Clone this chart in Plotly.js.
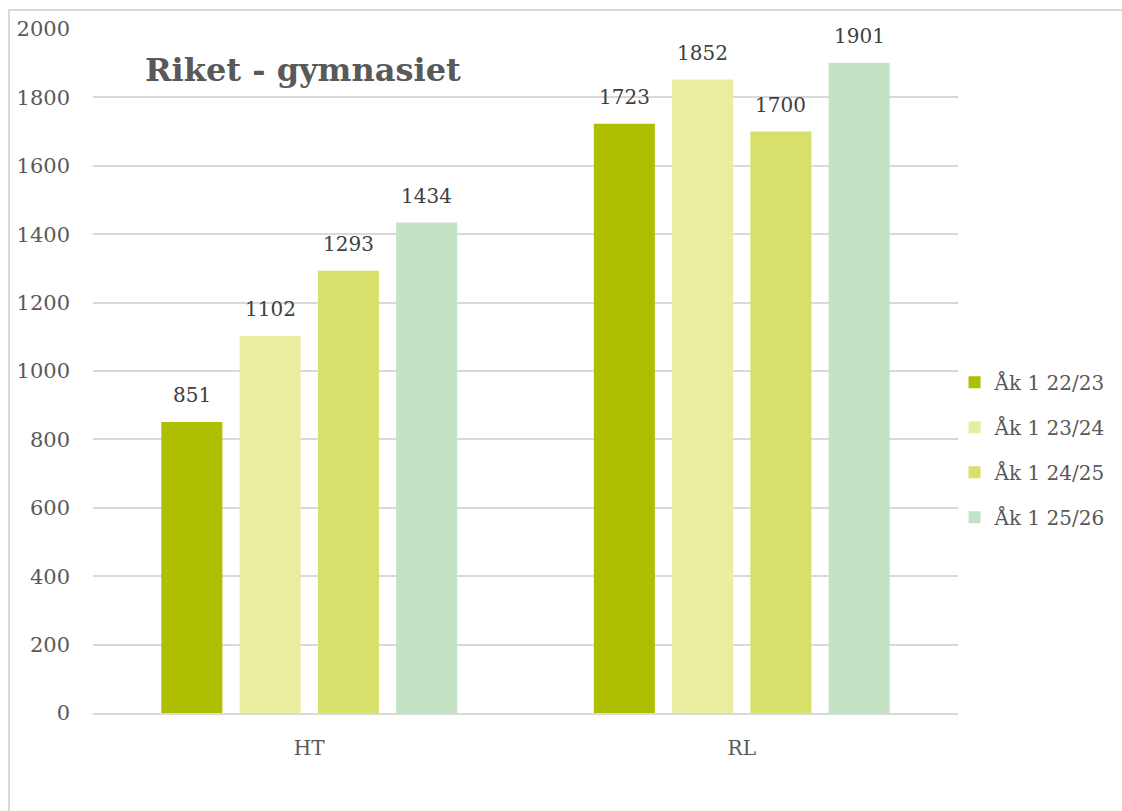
<!DOCTYPE html>
<html>
<head>
<meta charset="utf-8">
<script src="https://cdn.plot.ly/plotly-3.0.1.min.js"></script>
<style>
html,body{margin:0;padding:0;background:#fff;}
#frame{position:absolute;left:8px;top:9px;width:1130px;height:820px;border:2px solid #d9d9d9;box-sizing:border-box;}
#chart{position:absolute;left:0;top:0;width:1122px;height:811px;}
</style>
</head>
<body>
<div id="frame"></div>
<div id="chart"></div>
<script>
const categories = ["HT", "RL"];
const seriesNames = ["Åk 1 22/23", "Åk 1 23/24", "Åk 1 24/25", "Åk 1 25/26"];
const vals2223 = [851, 1723];
const vals2324 = [1102, 1852];
const vals2425 = [1293, 1700];
const vals2526 = [1434, 1901];
const yTicks = [0, 200, 400, 600, 800, 1000, 1200, 1400, 1600, 1800, 2000];

const allVals = [vals2223, vals2324, vals2425, vals2526];
const colors = ["#adbf00", "#e9eda0", "#d7e06b", "#c4e2c6"];
const fontFam = "'DejaVu Serif', 'Liberation Serif', serif";

const traces = allVals.map((v, i) => ({
  type: "bar",
  name: seriesNames[i],
  legendgroup: "g" + i,
  x: categories,
  y: v,
  marker: {color: colors[i]},
  hoverinfo: "none"
}));

// data labels placed above each bar
const slot = 78.3;
const annotations = [];
allVals.forEach((v, i) => {
  v.forEach((val, j) => {
    annotations.push({
      x: categories[j], y: val, xref: "x", yref: "y",
      text: String(val), showarrow: false,
      xshift: (i - 1.5) * slot, yshift: 13, yanchor: "bottom",
      font: {family: fontFam, size: 20, color: "#404040"}
    });
  });
});

const layout = {
  width: 1122, height: 811,
  margin: {l: 93, r: 164, t: 29, b: 98, autoexpand: false},
  paper_bgcolor: "rgba(0,0,0,0)",
  plot_bgcolor: "rgba(0,0,0,0)",
  barmode: "group",
  bargap: 0.276,
  bargroupgap: 0.22,
  showlegend: true,
  legend: {
    x: 0.996, xanchor: "left", y: 0.385, yanchor: "middle",
    font: {family: fontFam, size: 20, color: "#595959"},
    tracegroupgap: 16, itemwidth: 30,
    bgcolor: "rgba(0,0,0,0)"
  },
  xaxis: {
    type: "category",
    range: [-0.5, 1.5],
    showgrid: false,
    showline: true, linecolor: "#d9d9d9", linewidth: 2,
    ticks: "", ticklabelstandoff: 16,
    tickfont: {family: fontFam, size: 20, color: "#595959"},
    fixedrange: true
  },
  yaxis: {
    range: [0, 2000],
    tickvals: yTicks,
    ticktext: yTicks.map(String),
    showgrid: true, gridcolor: "#d9d9d9", gridwidth: 2,
    zeroline: false, showline: false,
    ticks: "", ticklabelstandoff: 22,
    tickfont: {family: fontFam, size: 21, color: "#595959"},
    fixedrange: true
  },
  title: {
    text: "<b>Riket - gymnasiet</b>",
    x: 145 / 1122, xanchor: "left", xref: "container",
    y: 1 - 70 / 811, yanchor: "middle", yref: "container",
    font: {family: fontFam, size: 32, color: "#595959"}
  },
  annotations: annotations
};

Plotly.newPlot("chart", traces, layout, {displayModeBar: false, staticPlot: true});
</script>
</body>
</html>
